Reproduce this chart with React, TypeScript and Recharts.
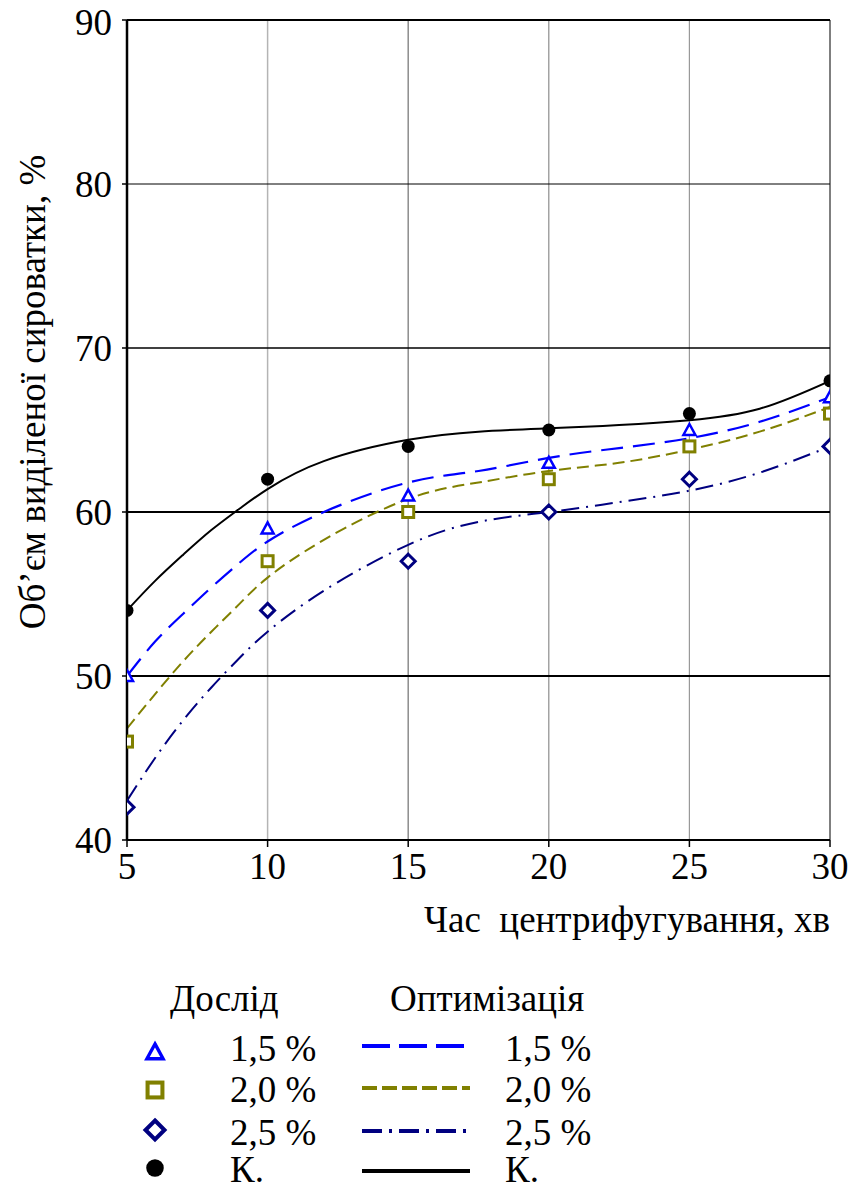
import React from 'react';
import { ComposedChart, Line, Scatter, XAxis, YAxis, ReferenceLine } from 'recharts';

// experimental points
const times = [5, 10, 15, 20, 25, 30];
const exp15 = [50, 59, 61, 63, 65, 67];
const exp20 = [46, 57, 60, 62, 64, 66];
const exp25 = [42, 54, 57, 60, 62, 64];
const expK = [54, 62, 64, 65, 66, 68];

// optimisation curves
const fitX = [5, 6, 7, 8, 9, 10, 12, 15, 17.5, 20, 22.5, 25, 27.5, 30];
const fit15 = [50.0, 52.1, 53.8, 55.4, 56.9, 58.2, 60.0, 61.8, 62.5, 63.3, 63.9, 64.5, 65.5, 67.0];
const fit20 = [46.8, 48.9, 50.9, 52.7, 54.4, 56.0, 58.3, 60.8, 61.8, 62.5, 63.0, 63.8, 64.9, 66.4];
const fit25 = [42.4, 45.0, 47.3, 49.3, 51.1, 52.7, 55.2, 58.0, 59.4, 60.0, 60.6, 61.3, 62.4, 64.0];
const fitK = [54.0, 55.8, 57.4, 58.9, 60.2, 61.4, 63.1, 64.4, 64.9, 65.1, 65.3, 65.6, 66.3, 68.0];

const xTicks = [5, 10, 15, 20, 25, 30];
const yTicks = [40, 50, 60, 70, 80, 90];
const labels = ['1,5 %', '2,0 %', '2,5 %', 'К.'];

const FONT = '"Liberation Serif", "Times New Roman", serif';
const BLUE = '#0000ff';
const OLIVE = '#808000';
const NAVY = '#000080';

const pts = (xs: number[], ys: number[]) => xs.map((x, i) => ({ x, y: ys[i] }));

const Tri = ({ cx, cy, s = 1 }: any) => (
  <polygon
    points={`${cx},${cy - 6 * s} ${cx + 6 * s},${cy + 5 * s} ${cx - 6 * s},${cy + 5 * s}`}
    fill="#fff" stroke={BLUE} strokeWidth={2.5 * s}
  />
);
const Sq = ({ cx, cy, s = 1 }: any) => (
  <rect x={cx - 5.5 * s} y={cy - 5.5 * s} width={11 * s} height={11 * s} fill="#fff" stroke={OLIVE} strokeWidth={3 * s} />
);
const Dia = ({ cx, cy, s = 1 }: any) => (
  <polygon
    points={`${cx},${cy - 7 * s} ${cx + 7 * s},${cy} ${cx},${cy + 7 * s} ${cx - 7 * s},${cy}`}
    fill="#fff" stroke={NAVY} strokeWidth={3 * s}
  />
);
const Dot = ({ cx, cy, s = 1 }: any) => <circle cx={cx} cy={cy} r={6.5 * s} fill="#000" />;

const XTitle = ({ viewBox }: any) => {
  const vb = viewBox || { x: 127, y: 840, width: 703 };
  return (
    <text x={vb.x + vb.width} y={vb.y + 92} textAnchor="end" fontFamily={FONT} fontSize={37}
      fill="#000" style={{ whiteSpace: 'pre' }}>
      Час  центрифугування, хв
    </text>
  );
};

const YTitle = ({ viewBox }: any) => {
  const vb = viewBox || { x: 0, y: 20 };
  const x = vb.x + 32;
  const y = vb.y + 372;
  return (
    <text x={x} y={y} transform={`rotate(-90 ${x} ${y})`} textAnchor="middle" dominantBaseline="central"
      fontFamily={FONT} fontSize={37} fill="#000">
      Об’єм виділеної сироватки, %
    </text>
  );
};

const tickStyle = { fontFamily: FONT, fontSize: 37, fill: '#000' };

const legendRows = [
  { marker: Tri, color: BLUE, dash: '28 9', y: 1052, lineY: 1046, base: 1061 },
  { marker: Sq, color: OLIVE, dash: '15 5', y: 1090, lineY: 1088, base: 1102 },
  { marker: Dia, color: NAVY, dash: '20 7 3 7', y: 1130, lineY: 1131, base: 1145 },
  { marker: Dot, color: '#000', dash: undefined, y: 1168, lineY: 1171, base: 1182 },
];

const Legend = () => {
  const top = 975;
  return (
    <svg width={853} height={214} style={{ position: 'absolute', left: 0, top }}>
      <text x={170} y={1011 - top} fontFamily={FONT} fontSize={37} fill="#000">Дослід</text>
      <text x={390} y={1011 - top} fontFamily={FONT} fontSize={37} fill="#000">Оптимізація</text>
      {legendRows.map((r, i) => {
        const M = r.marker;
        return (
          <g key={i}>
            <M cx={155} cy={r.y - top} s={1.35} />
            <text x={230} y={r.base - top} fontFamily={FONT} fontSize={37} fill="#000">{labels[i]}</text>
            <line x1={362} x2={470} y1={r.lineY - top} y2={r.lineY - top} stroke={r.color}
              strokeWidth={4} strokeDasharray={r.dash} />
            <text x={505} y={r.base - top} fontFamily={FONT} fontSize={37} fill="#000">{labels[i]}</text>
          </g>
        );
      })}
    </svg>
  );
};

export default function App() {
  return (
    <div style={{ position: 'absolute', left: 0, top: 0, width: 853, height: 1189, background: '#fff' }}>
      <ComposedChart width={853} height={1189} margin={{ top: 20, right: 23, bottom: 249, left: 0 }}>
        <XAxis
          dataKey="x" type="number" domain={[5, 30]} ticks={xTicks} allowDataOverflow
          stroke="#000" axisLine={{ stroke: '#000', strokeWidth: 2 }} tickLine={{ stroke: '#000', strokeWidth: 1.5 }}
          tickSize={7} tickMargin={6} height={100} tick={tickStyle} label={<XTitle />}
        />
        <YAxis
          dataKey="y" type="number" domain={[40, 90]} ticks={yTicks} allowDataOverflow
          stroke="#000" axisLine={{ stroke: '#000', strokeWidth: 2.5 }} tickLine={{ stroke: '#000', strokeWidth: 1.5 }}
          tickSize={5} tickMargin={10} width={127} tick={tickStyle} label={<YTitle />}
        />

        {/* grid */}
        <ReferenceLine x={10} stroke="#b4b4b4" strokeWidth={1.5} />
        <ReferenceLine x={15} stroke="#8c8c8c" strokeWidth={1.5} />
        <ReferenceLine x={20} stroke="#8c8c8c" strokeWidth={1.2} />
        <ReferenceLine x={25} stroke="#999" strokeWidth={1.2} />
        <ReferenceLine x={30} stroke="#555" strokeWidth={1.5} />
        <ReferenceLine y={50} stroke="#000" strokeWidth={2} />
        <ReferenceLine y={60} stroke="#000" strokeWidth={2} />
        <ReferenceLine y={70} stroke="#000" strokeWidth={1.3} />
        <ReferenceLine y={80} stroke="#000" strokeWidth={1} />
        <ReferenceLine y={90} stroke="#000" strokeWidth={2} />

        <Line data={pts(fitX, fitK)} dataKey="y" type="natural" stroke="#000" strokeWidth={2}
          dot={false} isAnimationActive={false} />
        <Line data={pts(fitX, fit15)} dataKey="y" type="natural" stroke={BLUE} strokeWidth={2.2}
          strokeDasharray="22 10" dot={false} isAnimationActive={false} />
        <Line data={pts(fitX, fit20)} dataKey="y" type="natural" stroke={OLIVE} strokeWidth={2}
          strokeDasharray="12 6" dot={false} isAnimationActive={false} />
        <Line data={pts(fitX, fit25)} dataKey="y" type="natural" stroke={NAVY} strokeWidth={2}
          strokeDasharray="18 7 2 7" dot={false} isAnimationActive={false} />

        <Scatter data={pts(times, exp15)} dataKey="y" shape={(p: any) => <Tri cx={p.cx} cy={p.cy} />} isAnimationActive={false} />
        <Scatter data={pts(times, exp20)} dataKey="y" shape={(p: any) => <Sq cx={p.cx} cy={p.cy} />} isAnimationActive={false} />
        <Scatter data={pts(times, exp25)} dataKey="y" shape={(p: any) => <Dia cx={p.cx} cy={p.cy} />} isAnimationActive={false} />
        <Scatter data={pts(times, expK)} dataKey="y" shape={(p: any) => <Dot cx={p.cx} cy={p.cy} />} isAnimationActive={false} />
      </ComposedChart>
      <Legend />
    </div>
  );
}
